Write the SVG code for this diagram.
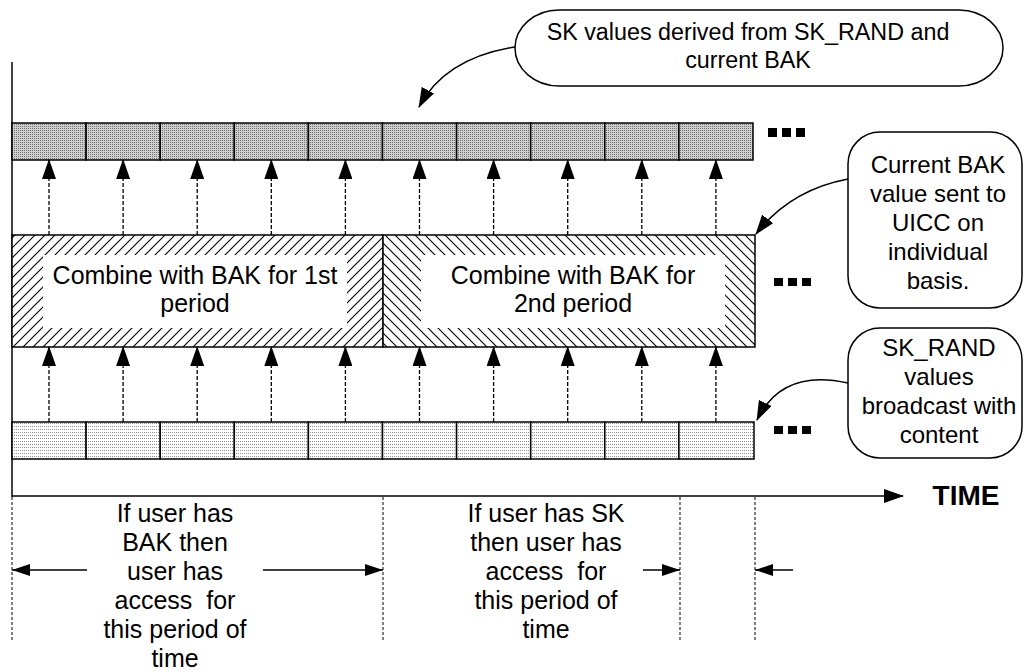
<svg xmlns="http://www.w3.org/2000/svg" width="1025" height="671" viewBox="0 0 1025 671">
<style>
text{font-family:"Liberation Sans",Arial,sans-serif;font-size:24px;fill:#000;text-anchor:middle}
.big{font-size:25px}
.cellT{fill:url(#gridT);stroke:#000;stroke-width:1.5}
.cellB{fill:url(#dotB);stroke:#000;stroke-width:1.5}
.dash{stroke:#000;stroke-width:1.3;stroke-dasharray:4 2;fill:none}
.dash2{stroke:#000;stroke-width:1;stroke-dasharray:3 2;fill:none}
.solid{stroke:#000;stroke-width:1.5;fill:none}
.call{fill:#fff;stroke:#000;stroke-width:1.5}
.dot{fill:#000}
</style>
<defs>
<pattern id="gridT" width="2" height="2" patternUnits="userSpaceOnUse">
<rect width="2" height="2" fill="#cfcfcf"/><rect width="1" height="1" fill="#707070"/>
</pattern>
<pattern id="dotB" width="2" height="3" patternUnits="userSpaceOnUse">
<rect width="2" height="3" fill="#fff"/><rect width="1" height="1" fill="#909090"/>
</pattern>
<pattern id="hatchF" width="10" height="10" patternUnits="userSpaceOnUse">
<rect width="10" height="10" fill="#fff"/>
<path d="M0,10 L10,0 M-1,1 L1,-1 M9,11 L11,9" stroke="#000" stroke-width="1.1"/>
</pattern>
<pattern id="hatchB" width="10" height="10" patternUnits="userSpaceOnUse">
<rect width="10" height="10" fill="#fff"/>
<path d="M0,0 L10,10 M-1,9 L1,11 M9,-1 L11,1" stroke="#000" stroke-width="1.1"/>
</pattern>
<marker id="ah" markerWidth="20" markerHeight="14" refX="19" refY="7" orient="auto" markerUnits="userSpaceOnUse">
<path d="M0,0 L20,7 L0,14 Z" fill="#000"/>
</marker>
<marker id="ahS" markerWidth="18" markerHeight="12" refX="18" refY="6" orient="auto" markerUnits="userSpaceOnUse">
<path d="M0,0 L18,6 L0,12 Z" fill="#000"/>
</marker>
</defs>
<rect width="1025" height="671" fill="#fff"/>

<g id="axes">
<line x1="12" y1="62" x2="12" y2="497" class="solid"/>
<line x1="12" y1="496" x2="903" y2="496" class="solid" marker-end="url(#ah)"/>
<text x="966" y="505" style="font-weight:bold;font-size:28px">TIME</text>
</g>

<g id="sk-row">
<rect class="cellT" x="12" y="123" width="74.1" height="37"/>
<rect class="cellT" x="86.1" y="123" width="74.1" height="37"/>
<rect class="cellT" x="160.2" y="123" width="74.1" height="37"/>
<rect class="cellT" x="234.3" y="123" width="74.1" height="37"/>
<rect class="cellT" x="308.4" y="123" width="74.1" height="37"/>
<rect class="cellT" x="382.5" y="123" width="74.1" height="37"/>
<rect class="cellT" x="456.6" y="123" width="74.1" height="37"/>
<rect class="cellT" x="530.7" y="123" width="74.1" height="37"/>
<rect class="cellT" x="604.8" y="123" width="74.1" height="37"/>
<rect class="cellT" x="678.9" y="123" width="74.1" height="37"/>
<rect class="dot" x="768" y="128" width="9" height="9"/>
<rect class="dot" x="782" y="128" width="9" height="9"/>
<rect class="dot" x="796" y="128" width="9" height="9"/>
</g>

<g id="bak1">
<rect x="12" y="235" width="371" height="112" fill="url(#hatchF)" stroke="#000" stroke-width="1.5"/>
<rect x="43" y="255" width="304" height="73" fill="#fff"/>
<text class="big" x="195" y="284">Combine with BAK for 1st</text>
<text class="big" x="195" y="312">period</text>
</g>
<g id="bak2">
<rect x="383" y="235" width="372" height="112" fill="url(#hatchB)" stroke="#000" stroke-width="1.5"/>
<rect x="421" y="255" width="304" height="73" fill="#fff"/>
<text class="big" x="573" y="284">Combine with BAK for</text>
<text class="big" x="573" y="312">2nd period</text>
<rect class="dot" x="774" y="278" width="9" height="8"/>
<rect class="dot" x="788" y="278" width="9" height="8"/>
<rect class="dot" x="802" y="278" width="9" height="8"/>
</g>

<g id="skrand-row">
<rect class="cellB" x="12" y="422" width="74.1" height="37"/>
<rect class="cellB" x="86.1" y="422" width="74.1" height="37"/>
<rect class="cellB" x="160.2" y="422" width="74.1" height="37"/>
<rect class="cellB" x="234.3" y="422" width="74.1" height="37"/>
<rect class="cellB" x="308.4" y="422" width="74.1" height="37"/>
<rect class="cellB" x="382.5" y="422" width="74.1" height="37"/>
<rect class="cellB" x="456.6" y="422" width="74.1" height="37"/>
<rect class="cellB" x="530.7" y="422" width="74.1" height="37"/>
<rect class="cellB" x="604.8" y="422" width="74.1" height="37"/>
<rect class="cellB" x="678.9" y="422" width="75.1" height="37"/>
<rect class="dot" x="774" y="426" width="9" height="8"/>
<rect class="dot" x="788" y="426" width="9" height="8"/>
<rect class="dot" x="802" y="426" width="9" height="8"/>
</g>

<g id="callout-sk">
<rect class="call" x="515" y="10" width="488" height="76" rx="44" ry="38"/>
<text x="748" y="40" style="font-size:23.3px">SK values derived from SK_RAND and</text>
<text x="748" y="68" style="font-size:23.3px">current BAK</text>
</g>
<g id="callout-bak">
<rect class="call" x="848" y="132" width="174" height="176" rx="32" ry="32"/>
<text x="938" y="173">Current BAK</text>
<text x="938" y="202">value sent to</text>
<text x="938" y="231">UICC on</text>
<text x="938" y="260">individual</text>
<text x="938" y="289">basis.</text>
</g>
<g id="callout-skrand">
<rect class="call" x="848" y="328" width="174" height="130" rx="32" ry="32"/>
<text x="939" y="356">SK_RAND</text>
<text x="939" y="385">values</text>
<text x="939" y="414">broadcast with</text>
<text x="939" y="443">content</text>
</g>

<g id="period-labels">
<text class="big" x="175" y="522">If user has</text>
<text class="big" x="175" y="551">BAK then</text>
<text class="big" x="175" y="580">user has</text>
<text class="big" x="175" y="609" xml:space="preserve">access  for</text>
<text class="big" x="175" y="638">this period of</text>
<text class="big" x="175" y="667">time</text>
<text class="big" x="546" y="522">If user has SK</text>
<text class="big" x="546" y="551">then user has</text>
<text class="big" x="546" y="580" xml:space="preserve">access  for</text>
<text class="big" x="546" y="609">this period of</text>
<text class="big" x="546" y="638">time</text>
</g>

<g id="connectors">
<line class="dash" x1="49" y1="235" x2="49" y2="160" marker-end="url(#ah)"/>
<line class="dash" x1="123.1" y1="235" x2="123.1" y2="160" marker-end="url(#ah)"/>
<line class="dash" x1="197.2" y1="235" x2="197.2" y2="160" marker-end="url(#ah)"/>
<line class="dash" x1="271.3" y1="235" x2="271.3" y2="160" marker-end="url(#ah)"/>
<line class="dash" x1="345.4" y1="235" x2="345.4" y2="160" marker-end="url(#ah)"/>
<line class="dash" x1="419.5" y1="235" x2="419.5" y2="160" marker-end="url(#ah)"/>
<line class="dash" x1="493.6" y1="235" x2="493.6" y2="160" marker-end="url(#ah)"/>
<line class="dash" x1="567.7" y1="235" x2="567.7" y2="160" marker-end="url(#ah)"/>
<line class="dash" x1="641.8" y1="235" x2="641.8" y2="160" marker-end="url(#ah)"/>
<line class="dash" x1="715.9" y1="235" x2="715.9" y2="160" marker-end="url(#ah)"/>

<line class="dash" x1="49" y1="422" x2="49" y2="347" marker-end="url(#ah)"/>
<line class="dash" x1="123.1" y1="422" x2="123.1" y2="347" marker-end="url(#ah)"/>
<line class="dash" x1="197.2" y1="422" x2="197.2" y2="347" marker-end="url(#ah)"/>
<line class="dash" x1="271.3" y1="422" x2="271.3" y2="347" marker-end="url(#ah)"/>
<line class="dash" x1="345.4" y1="422" x2="345.4" y2="347" marker-end="url(#ah)"/>
<line class="dash" x1="419.5" y1="422" x2="419.5" y2="347" marker-end="url(#ah)"/>
<line class="dash" x1="493.6" y1="422" x2="493.6" y2="347" marker-end="url(#ah)"/>
<line class="dash" x1="567.7" y1="422" x2="567.7" y2="347" marker-end="url(#ah)"/>
<line class="dash" x1="641.8" y1="422" x2="641.8" y2="347" marker-end="url(#ah)"/>
<line class="dash" x1="715.9" y1="422" x2="715.9" y2="347" marker-end="url(#ah)"/>

<path class="solid" d="M515,47 Q445,58 419,107" marker-end="url(#ah)"/>
<path class="solid" d="M848,179 Q790,190 756,234" marker-end="url(#ah)"/>
<path class="solid" d="M848,383 Q782,368 757,420" marker-end="url(#ah)"/>

<line class="dash2" x1="12" y1="497" x2="12" y2="642"/>
<line class="dash2" x1="383" y1="497" x2="383" y2="642"/>
<line class="dash2" x1="680" y1="497" x2="680" y2="642"/>
<line class="dash2" x1="755" y1="497" x2="755" y2="642"/>

<line class="solid" x1="87" y1="570" x2="12" y2="570" marker-end="url(#ahS)"/>
<line class="solid" x1="263" y1="570" x2="383" y2="570" marker-end="url(#ahS)"/>
<line class="solid" x1="643" y1="570" x2="680" y2="570" marker-end="url(#ahS)"/>
<line class="solid" x1="793" y1="570" x2="755" y2="570" marker-end="url(#ahS)"/>
</g>
</svg>
